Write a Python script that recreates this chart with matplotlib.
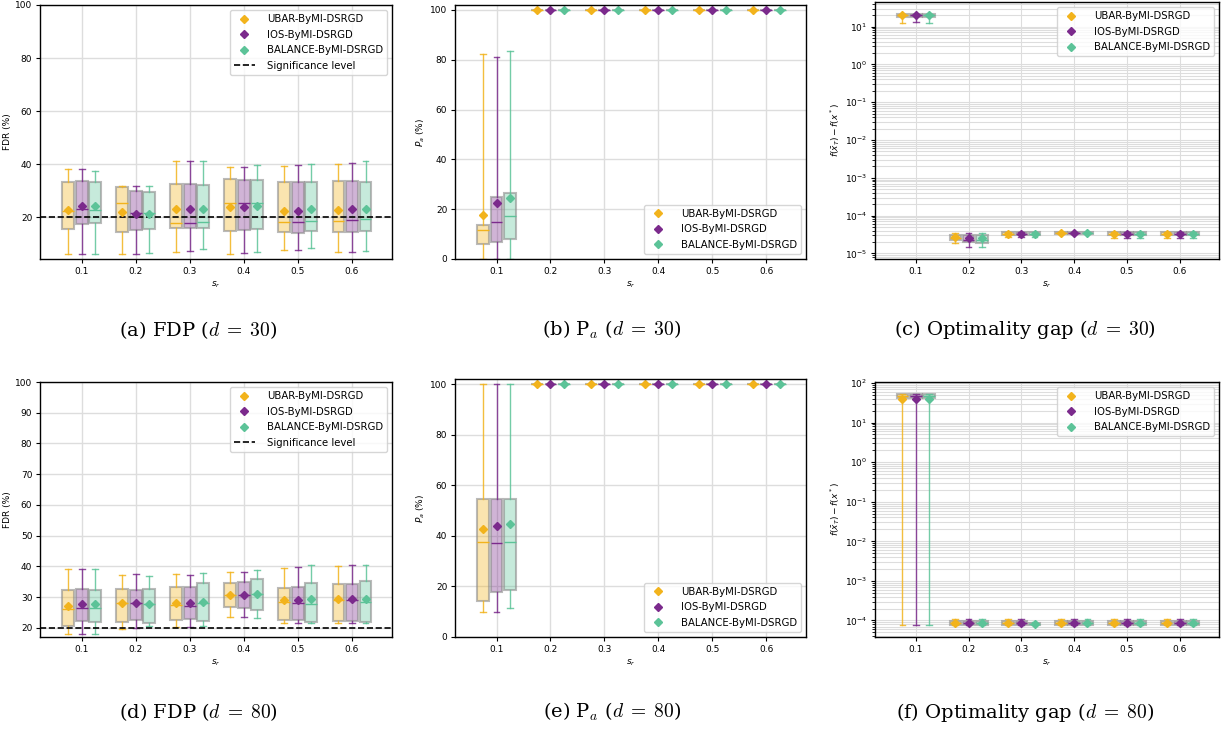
import matplotlib
matplotlib.use("Agg")
import matplotlib.pyplot as plt
from matplotlib.lines import Line2D
from matplotlib.colors import to_rgba

plt.rcParams['mathtext.fontset'] = 'dejavusans'

s_r = [0.1, 0.2, 0.3, 0.4, 0.5, 0.6]
methods = ["UBAR-ByMI-DSRGD", "IOS-ByMI-DSRGD", "BALANCE-ByMI-DSRGD"]
colors = ["#F2B31C", "#7B2A8C", "#5CC398"]
offsets = [-0.025, 0.0, 0.025]

# (a) FDR, d = 30   rows: UBAR, IOS, BALANCE
a_lo = [[6.0, 6.3, 7.0, 6.3, 7.8, 7.0],
        [6.0, 6.3, 7.3, 6.5, 7.8, 7.0],
        [6.0, 6.5, 8.0, 6.8, 8.4, 7.2]]
a_q1 = [[15.5, 14.3, 16.0, 14.8, 14.3, 14.3],
        [17.5, 15.0, 16.0, 15.0, 14.2, 14.5],
        [17.8, 15.4, 15.8, 15.5, 14.8, 14.8]]
a_med = [[22.3, 25.3, 17.7, 25.3, 18.0, 18.5],
         [23.0, 21.4, 17.8, 25.3, 18.0, 18.8],
         [22.8, 21.4, 18.2, 25.5, 18.4, 19.3]]
a_q3 = [[33.2, 31.2, 32.5, 34.4, 33.2, 33.6],
        [33.5, 29.8, 32.5, 34.2, 33.2, 33.5],
        [33.2, 29.6, 32.2, 34.2, 33.2, 33.3]]
a_hi = [[38.0, 31.8, 41.3, 38.8, 39.2, 40.2],
        [38.0, 31.8, 41.3, 38.8, 39.5, 40.6],
        [37.6, 31.8, 41.0, 39.5, 40.0, 41.0]]
a_mean = [[22.8, 21.8, 23.0, 24.0, 22.4, 22.7],
          [24.2, 21.2, 23.0, 24.0, 22.4, 22.9],
          [24.2, 21.2, 23.0, 24.3, 22.9, 23.1]]

# (b) P_a, d = 30
b_lo = [[0.0, 100, 100, 100, 100, 100],
        [0.0, 100, 100, 100, 100, 100],
        [0.0, 100, 100, 100, 100, 100]]
b_q1 = [[6.2, 100, 100, 100, 100, 100],
        [6.7, 100, 100, 100, 100, 100],
        [8.0, 100, 100, 100, 100, 100]]
b_med = [[11.5, 100, 100, 100, 100, 100],
         [15.0, 100, 100, 100, 100, 100],
         [17.3, 100, 100, 100, 100, 100]]
b_q3 = [[13.7, 100, 100, 100, 100, 100],
        [25.0, 100, 100, 100, 100, 100],
        [26.7, 100, 100, 100, 100, 100]]
b_hi = [[82.5, 100, 100, 100, 100, 100],
        [81.0, 100, 100, 100, 100, 100],
        [83.5, 100, 100, 100, 100, 100]]
b_mean = [[17.5, 100, 100, 100, 100, 100],
          [22.5, 100, 100, 100, 100, 100],
          [24.5, 100, 100, 100, 100, 100]]

# (c) optimality gap, d = 30
c_lo = [[12.5, 1.85e-5, 2.7e-5, 3.2e-5, 2.6e-5, 2.6e-5],
        [13.5, 1.45e-5, 2.7e-5, 3.2e-5, 2.6e-5, 2.6e-5],
        [12.5, 1.45e-5, 2.7e-5, 3.2e-5, 2.6e-5, 2.6e-5]]
c_q1 = [[18.5, 2.2e-5, 3.1e-5, 3.35e-5, 3.1e-5, 3.1e-5],
        [18.5, 2.0e-5, 3.1e-5, 3.35e-5, 3.1e-5, 3.1e-5],
        [18.5, 1.9e-5, 3.1e-5, 3.35e-5, 3.1e-5, 3.1e-5]]
c_med = [[20.0, 2.5e-5, 3.35e-5, 3.5e-5, 3.35e-5, 3.35e-5],
         [20.0, 2.3e-5, 3.35e-5, 3.5e-5, 3.35e-5, 3.35e-5],
         [20.0, 2.3e-5, 3.35e-5, 3.5e-5, 3.35e-5, 3.35e-5]]
c_q3 = [[21.5, 3.1e-5, 3.6e-5, 3.7e-5, 3.6e-5, 3.6e-5],
        [21.5, 3.0e-5, 3.6e-5, 3.7e-5, 3.6e-5, 3.6e-5],
        [21.5, 3.1e-5, 3.6e-5, 3.7e-5, 3.6e-5, 3.6e-5]]
c_hi = [[22.0, 3.5e-5, 3.8e-5, 3.8e-5, 3.8e-5, 3.8e-5],
        [22.0, 3.5e-5, 3.8e-5, 3.8e-5, 3.8e-5, 3.8e-5],
        [22.0, 3.5e-5, 3.8e-5, 3.8e-5, 3.8e-5, 3.8e-5]]
c_mean = [[20.0, 2.7e-5, 3.3e-5, 3.5e-5, 3.3e-5, 3.3e-5],
          [20.0, 2.5e-5, 3.3e-5, 3.5e-5, 3.3e-5, 3.3e-5],
          [20.0, 2.5e-5, 3.3e-5, 3.5e-5, 3.3e-5, 3.3e-5]]

# (d) FDR, d = 80
d_lo = [[18.1, 19.7, 20.2, 23.4, 21.4, 21.6],
        [18.1, 19.8, 20.1, 23.4, 21.4, 21.6],
        [18.1, 20.5, 20.6, 23.2, 21.6, 21.6]]
d_q1 = [[20.7, 22.0, 22.5, 26.8, 22.6, 22.2],
        [22.2, 22.4, 22.8, 26.5, 22.6, 22.2],
        [22.0, 21.7, 22.2, 25.8, 21.9, 21.9]]
d_med = [[26.2, 28.0, 27.3, 30.6, 28.4, 29.0],
         [26.5, 28.0, 27.2, 30.6, 28.2, 29.0],
         [26.5, 27.6, 28.0, 31.0, 27.8, 28.4]]
d_q3 = [[32.3, 32.7, 33.3, 34.6, 32.8, 34.3],
        [32.6, 32.4, 33.4, 35.0, 33.2, 34.1],
        [32.4, 32.5, 34.4, 36.0, 34.6, 35.1]]
d_hi = [[39.0, 37.2, 37.5, 38.0, 39.6, 40.1],
        [39.2, 37.5, 37.3, 38.2, 39.8, 40.5],
        [39.0, 37.0, 37.8, 38.8, 40.4, 40.4]]
d_mean = [[27.1, 28.0, 28.2, 30.7, 28.9, 29.4],
          [27.6, 28.0, 28.2, 30.7, 29.0, 29.4],
          [27.6, 27.8, 28.5, 31.0, 29.2, 29.4]]

# (e) P_a, d = 80
e_lo = [[9.9, 100, 100, 100, 100, 100],
        [9.9, 100, 100, 100, 100, 100],
        [11.4, 100, 100, 100, 100, 100]]
e_q1 = [[14.2, 100, 100, 100, 100, 100],
        [17.8, 100, 100, 100, 100, 100],
        [18.6, 100, 100, 100, 100, 100]]
e_med = [[37.6, 100, 100, 100, 100, 100],
         [37.3, 100, 100, 100, 100, 100],
         [37.6, 100, 100, 100, 100, 100]]
e_q3 = [[54.6, 100, 100, 100, 100, 100],
        [54.6, 100, 100, 100, 100, 100],
        [54.6, 100, 100, 100, 100, 100]]
e_hi = [[100, 100, 100, 100, 100, 100],
        [100, 100, 100, 100, 100, 100],
        [100, 100, 100, 100, 100, 100]]
e_mean = [[42.8, 100, 100, 100, 100, 100],
          [43.8, 100, 100, 100, 100, 100],
          [44.8, 100, 100, 100, 100, 100]]

# (f) optimality gap, d = 80
f_lo = [[7.5e-5, 7.5e-5, 7.5e-5, 7.5e-5, 7.5e-5, 7.5e-5],
        [7.5e-5, 7.5e-5, 7.5e-5, 7.5e-5, 7.5e-5, 7.5e-5],
        [7.5e-5, 7.5e-5, 7.5e-5, 7.5e-5, 7.5e-5, 7.5e-5]]
f_q1 = [[42.5, 7.8e-5, 7.8e-5, 7.8e-5, 7.8e-5, 7.8e-5],
        [42.5, 7.8e-5, 7.8e-5, 7.8e-5, 7.8e-5, 7.8e-5],
        [42.5, 7.8e-5, 7.8e-5, 7.8e-5, 7.8e-5, 7.8e-5]]
f_med = [[47.0, 8.6e-5, 8.6e-5, 8.6e-5, 8.6e-5, 8.6e-5],
         [47.0, 8.6e-5, 8.6e-5, 8.6e-5, 8.6e-5, 8.6e-5],
         [47.0, 8.6e-5, 8.2e-5, 8.6e-5, 8.6e-5, 8.6e-5]]
f_q3 = [[52.0, 9.6e-5, 9.6e-5, 9.6e-5, 9.6e-5, 9.6e-5],
        [52.0, 9.6e-5, 9.6e-5, 9.6e-5, 9.6e-5, 9.6e-5],
        [52.0, 9.6e-5, 8.8e-5, 9.6e-5, 9.6e-5, 9.6e-5]]
f_hi = [[54.0, 1.12e-4, 1.12e-4, 1.12e-4, 1.12e-4, 1.12e-4],
        [54.0, 1.12e-4, 1.12e-4, 1.12e-4, 1.12e-4, 1.12e-4],
        [54.0, 1.12e-4, 9.2e-5, 1.12e-4, 1.12e-4, 1.12e-4]]
f_mean = [[39.0, 8.7e-5, 8.7e-5, 8.7e-5, 8.7e-5, 8.7e-5],
          [39.0, 8.7e-5, 8.7e-5, 8.7e-5, 8.7e-5, 8.7e-5],
          [39.0, 8.7e-5, 8.2e-5, 8.7e-5, 8.7e-5, 8.7e-5]]

W, H = 1225, 732
fig = plt.figure(figsize=(W / 100, H / 100), dpi=100)


def add_ax(left, top, right, bottom):
    return fig.add_axes([left / W, (H - bottom) / H, (right - left) / W, (bottom - top) / H])


def draw_boxes(ax, lo, q1, med, q3, hi, mean):
    for m in range(3):
        c = colors[m]
        stats = []
        for i in range(len(s_r)):
            stats.append(dict(whislo=lo[m][i], q1=q1[m][i], med=med[m][i], q3=q3[m][i],
                              whishi=hi[m][i], mean=mean[m][i], fliers=[]))
        pos = [s + offsets[m] for s in s_r]
        ax.bxp(stats, positions=pos, widths=0.022, patch_artist=True, showmeans=True,
               manage_ticks=False,
               boxprops=dict(facecolor=to_rgba(c, 0.35), edgecolor=(0.55, 0.55, 0.55, 0.6), linewidth=1.5),
               medianprops=dict(color=c, linewidth=1.0),
               whiskerprops=dict(color=c, linewidth=1.0, alpha=0.85),
               capprops=dict(color=c, linewidth=1.0, alpha=0.85),
               meanprops=dict(marker='D', markerfacecolor=c, markeredgecolor=c, markersize=3.8))


def style(ax, ylabel, log=False):
    ax.set_xticks(s_r)
    ax.set_xticklabels([str(s) for s in s_r])
    ax.set_xlim(0.023, 0.674)
    ax.set_xlabel("$s_r$", fontsize=6.5, labelpad=3)
    ax.set_ylabel(ylabel, fontsize=6.5, labelpad=2)
    ax.tick_params(labelsize=6.5, length=3, pad=2.5)
    ax.set_axisbelow(True)
    if log:
        ax.set_yscale('log')
        ax.grid(True, which='both', color='#dddddd', linewidth=0.8)
    else:
        ax.grid(True, color='#dddddd', linewidth=1.0)
    for sp in ax.spines.values():
        sp.set_linewidth(1.0)


def legend(ax, loc, sig=False):
    handles = [Line2D([], [], marker='D', ls='none', color=c, markersize=3.8) for c in colors]
    labels = list(methods)
    if sig:
        handles.append(Line2D([], [], color='black', ls='--', lw=1.2))
        labels.append("Significance level")
    ax.legend(handles, labels, loc=loc, fontsize=7.3, handletextpad=1.2, labelspacing=0.55)


# row 1
ax = add_ax(40, 5, 392, 259)
draw_boxes(ax, a_lo, a_q1, a_med, a_q3, a_hi, a_mean)
ax.axhline(20, color='black', ls='--', lw=1.2)
style(ax, "FDR (%)")
ax.set_ylim(top=100)
legend(ax, 'upper right', sig=True)

ax = add_ax(455, 5, 806, 259)
draw_boxes(ax, b_lo, b_q1, b_med, b_q3, b_hi, b_mean)
style(ax, "$P_a$ (%)")
ax.set_ylim(0, 102)
legend(ax, 'lower right')

ax = add_ax(875, 2, 1219, 259)
draw_boxes(ax, c_lo, c_q1, c_med, c_q3, c_hi, c_mean)
style(ax, r"$f(\bar{x}_T) - f(x^*)$", log=True)
legend(ax, 'upper right')

# row 2
ax = add_ax(40, 382, 392, 637)
draw_boxes(ax, d_lo, d_q1, d_med, d_q3, d_hi, d_mean)
ax.axhline(20, color='black', ls='--', lw=1.2)
style(ax, "FDR (%)")
ax.set_ylim(top=100)
legend(ax, 'upper right', sig=True)

ax = add_ax(455, 379, 806, 637)
draw_boxes(ax, e_lo, e_q1, e_med, e_q3, e_hi, e_mean)
style(ax, "$P_a$ (%)")
ax.set_ylim(0, 102)
legend(ax, 'lower right')

ax = add_ax(875, 382, 1219, 637)
draw_boxes(ax, f_lo, f_q1, f_med, f_q3, f_hi, f_mean)
style(ax, r"$f(\bar{x}_T) - f(x^*)$", log=True)
legend(ax, 'upper right')

captions = [(r"(a) FDP ($d\;=\;30$)", 198, 330), (r"(b) P$_a$ ($d\;=\;30$)", 612, 330),
            (r"(c) Optimality gap ($d\;=\;30$)", 1025, 330),
            (r"(d) FDP ($d\;=\;80$)", 198, 712), (r"(e) P$_a$ ($d\;=\;80$)", 612, 712),
            (r"(f) Optimality gap ($d\;=\;80$)", 1025, 712)]
for txt, x, y in captions:
    fig.text(x / W, 1 - y / H, txt, ha='center', va='center', fontsize=14,
             family='DejaVu Serif', math_fontfamily='cm')

fig.savefig("out.png", dpi=100)
